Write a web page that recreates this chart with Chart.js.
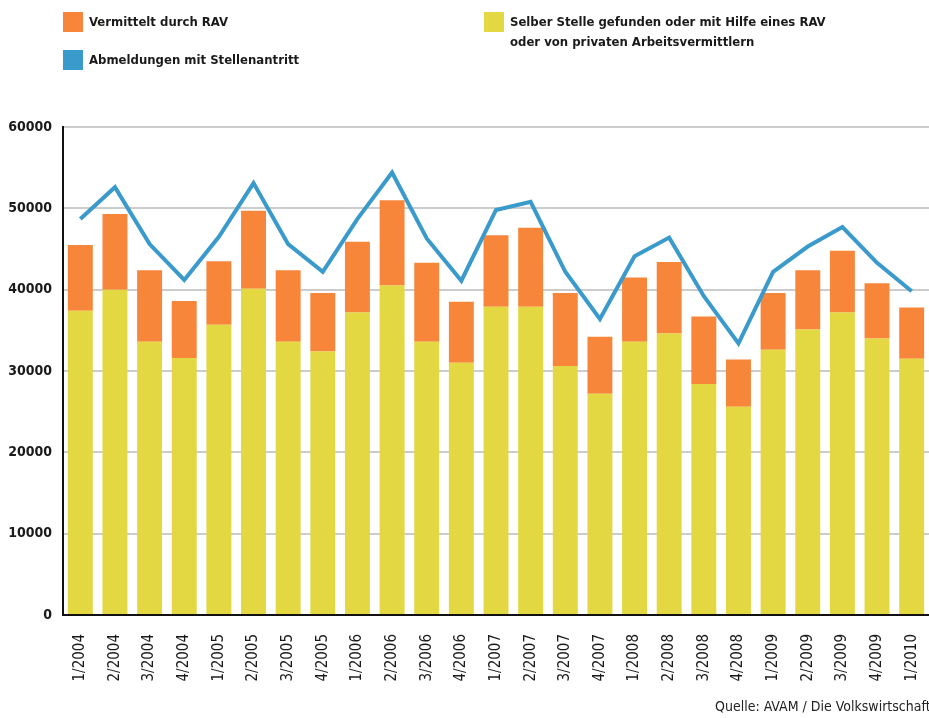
<!DOCTYPE html>
<html>
<head>
<meta charset="utf-8">
<script src="https://cdn.jsdelivr.net/npm/chart.js@4.4.1/dist/chart.umd.min.js"></script>
<style>
  html, body { margin: 0; padding: 0; background: #fff; }
  body { width: 929px; height: 718px; position: relative; overflow: hidden;
         font-family: 'DejaVu Sans Condensed', 'Liberation Sans Narrow', sans-serif; color: #1a1a1a; }
  #wrap { position: absolute; left: 0; top: 0; width: 929px; height: 718px; }
  .key { position: absolute; font-weight: bold; font-size: 13px; line-height: 20px; }
  .key i { position: absolute; left: -26px; top: 0; width: 20px; height: 20px; }
  #source { position: absolute; left: 715px; top: 698px; font-size: 14px; white-space: nowrap; color: #222; }
</style>
</head>
<body>
<div id="wrap"><canvas id="chart"></canvas></div>

<div class="key" style="left:89px; top:12px;"><i style="background:#F7863B"></i>Vermittelt durch RAV</div>
<div class="key" style="left:89px; top:50px;"><i style="background:#3A9ACB"></i>Abmeldungen mit Stellenantritt</div>
<div class="key" style="left:510px; top:12px;"><i style="background:#E3D842"></i>Selber Stelle gefunden oder mit Hilfe eines RAV<br>oder von privaten Arbeitsvermittlern</div>
<div id="source">Quelle: AVAM / Die Volkswirtschaft</div>

<script>
// ─── Data ───

const quarters = [
  '1/2004', '2/2004', '3/2004', '4/2004',
  '1/2005', '2/2005', '3/2005', '4/2005',
  '1/2006', '2/2006', '3/2006', '4/2006',
  '1/2007', '2/2007', '3/2007', '4/2007',
  '1/2008', '2/2008', '3/2008', '4/2008',
  '1/2009', '2/2009', '3/2009', '4/2009',
  '1/2010',
];

// Selber Stelle gefunden / private Vermittler (lower stack)
const selbst = [
  37400, 40000, 33600, 31600,
  35700, 40100, 33600, 32400,
  37200, 40500, 33600, 31000,
  37900, 37900, 30600, 27200,
  33600, 34600, 28400, 25600,
  32600, 35100, 37200, 34000,
  31500,
];

// Vermittelt durch RAV (upper stack)
const rav = [
  8100, 9300, 8800, 7000,
  7800, 9600, 8800, 7200,
  8700, 10500, 9700, 7500,
  8800, 9700, 9000, 7000,
  7900, 8800, 8300, 5800,
  7000, 7300, 7600, 6800,
  6300,
];

// Abmeldungen mit Stellenantritt (line)
const abmeldungen = [
  48700, 52600, 45600, 41200,
  46500, 53100, 45600, 42200,
  48700, 54400, 46300, 41100,
  49800, 50800, 42200, 36400,
  44100, 46400, 39200, 33400,
  42200, 45300, 47700, 43300,
  39800,
];

const yTicks = [0, 10000, 20000, 30000, 40000, 50000, 60000];

// ─── Chart ───

const FONT = "'DejaVu Sans Condensed', 'Liberation Sans Narrow', sans-serif";

new Chart(document.getElementById('chart'), {
  data: {
    labels: quarters,
    datasets: [
      {
        type: 'line',
        label: 'Abmeldungen mit Stellenantritt',
        data: abmeldungen,
        borderColor: '#3A9ACB',
        borderWidth: 4,
        pointRadius: 0,
        tension: 0,
        fill: false,
        stack: 'line',
        order: 0,
      },
      {
        type: 'bar',
        label: 'Selber Stelle gefunden',
        data: selbst,
        backgroundColor: '#E3D842',
        stack: 'bars',
        barPercentage: 0.72,
        categoryPercentage: 1,
        order: 1,
      },
      {
        type: 'bar',
        label: 'Vermittelt durch RAV',
        data: rav,
        backgroundColor: '#F7863B',
        stack: 'bars',
        barPercentage: 0.72,
        categoryPercentage: 1,
        order: 1,
      },
    ],
  },
  options: {
    responsive: true,
    maintainAspectRatio: false,
    animation: false,
    layout: { padding: { top: 127, right: 0, left: 0, bottom: 0 } },
    plugins: { legend: { display: false }, tooltip: { enabled: false } },
    scales: {
      x: {
        stacked: true,
        grid: { display: false, drawTicks: false },
        border: { color: '#111', width: 2 },
        ticks: {
          color: '#1a1a1a',
          font: { family: FONT, size: 15 },
          maxRotation: 90,
          minRotation: 90,
          padding: 19,
          autoSkip: false,
        },
        afterFit: s => { s.height = 103; s.paddingLeft = 0; s.paddingRight = 0; },
      },
      y: {
        stacked: true,
        min: 0,
        max: 60000,
        afterBuildTicks: s => { s.ticks = yTicks.map(v => ({ value: v })); },
        grid: { color: '#cccccc', lineWidth: 2, drawTicks: false },
        border: { color: '#111', width: 2 },
        ticks: {
          color: '#1a1a1a',
          font: { family: FONT, size: 14, weight: 'bold' },
          padding: 11,
          callback: v => String(v),
        },
        afterFit: s => { s.width = 63; s.paddingTop = 0; },
      },
    },
  },
});
</script>
</body>
</html>
